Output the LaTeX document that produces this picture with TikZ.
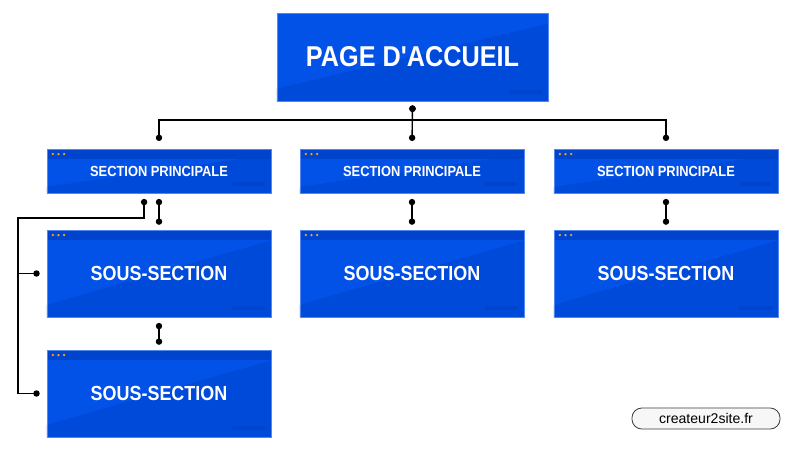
\documentclass[tikz,border=0pt]{standalone}
\usepackage{fontspec}
\setmainfont{Liberation Sans}
\newfontfamily\boxfont[FakeStretch=0.88]{Liberation Sans}
\usetikzlibrary{arrows.meta,calc}
\definecolor{boxblue}{RGB}{3,82,232}
\definecolor{shadeblue}{RGB}{0,74,218}
\definecolor{barblue}{RGB}{0,68,206}
\definecolor{edgeblue}{RGB}{80,135,240}
\definecolor{dotorange}{RGB}{255,170,20}
\newcommand\boxshade{%
  \fill[shadeblue] (path picture bounding box.south west)
    -- ($(path picture bounding box.south west)!0.14!(path picture bounding box.north west)$)
    -- ($(path picture bounding box.south east)!0.88!(path picture bounding box.north east)$)
    -- (path picture bounding box.south east) -- cycle;
  \fill[barblue] ([xshift=-27.6pt,yshift=5pt]path picture bounding box.south east)
    rectangle ([xshift=-4.2pt,yshift=8pt]path picture bounding box.south east);}
\tikzset{
  panel/.style={fill=boxblue, draw=edgeblue, line width=0.4pt, text=white, inner sep=0pt,
    path picture={\boxshade}},
  window/.style={panel, path picture={\boxshade
    \fill[barblue] (path picture bounding box.north west) rectangle ([yshift=-7pt]path picture bounding box.north east);
    \foreach \d in {4.2,8.2,12.2}
      \fill[dotorange] ([xshift=\d pt,yshift=-3.6pt]path picture bounding box.north west) circle (0.9pt);}},
  homebox/.style={panel, minimum width=6.775cm, minimum height=2.2cm,
    font=\boxfont\bfseries\fontsize{20.4}{24}\selectfont},
  secbox/.style={window, minimum width=5.6cm, minimum height=1.1cm,
    font=\boxfont\bfseries\fontsize{10.4}{12}\selectfont},
  subbox/.style={window, minimum width=5.6cm, minimum height=2.175cm,
    font=\boxfont\bfseries\fontsize{14.5}{17}\selectfont},
  link/.style={line width=1pt, {Circle[length=4.5pt]}-{Circle[length=4.5pt]},
    shorten <=3pt, shorten >=3.5pt},
  tag/.style={draw=black!75, fill=black!3, rounded corners=7pt, line width=0.6pt,
    minimum width=3.7cm, minimum height=0.525cm, font=\fontsize{10}{12}\selectfont}
}
\begin{document}
\begin{tikzpicture}[x=0.025cm,y=-0.025cm]
  \useasboundingbox[fill=white] (0,0) rectangle (800,451);
  % boxes
  \node[homebox] (home) at (412.5,57) {PAGE D'ACCUEIL};
  \node[secbox] (secA) at (159,171) {SECTION PRINCIPALE};
  \node[secbox] (secB) at (412,171) {SECTION PRINCIPALE};
  \node[secbox] (secC) at (666,171) {SECTION PRINCIPALE};
  \node[subbox] (subA) at (159,273.5) {SOUS-SECTION};
  \node[subbox] (subB) at (412,273.5) {SOUS-SECTION};
  \node[subbox] (subC) at (666,273.5) {SOUS-SECTION};
  \node[subbox] (subD) at (159,393.5) {SOUS-SECTION};
  \node[tag] (site) at (706,418.5) {createur2site.fr};
  % connectors
  \coordinate (bus) at (0,120);
  \coordinate (rail) at (18,218);
  \draw[link,shorten >=5.5pt] (home.south) -- (home.south |- bus) -| (secA.north);
  \draw[link,shorten >=5.5pt] (home.south) -- (secB.north);
  \draw[link,shorten >=5.5pt] (home.south) -- (home.south |- bus) -| (secC.north);
  \foreach \s/\t in {secA/subA,secB/subB,secC/subC,subA/subD}
    \draw[link,shorten <=4pt] (\s.south) -- (\t.north);
  \draw[link,shorten <=4pt,shorten >=5pt] ([xshift=-10.6pt]secA.south) |- (rail) |- (subD.west);
  \draw[link,-{Circle[length=4.5pt]},shorten <=0pt,shorten >=5pt] (rail |- subA.west) -- (subA.west);
\end{tikzpicture}
\end{document}
